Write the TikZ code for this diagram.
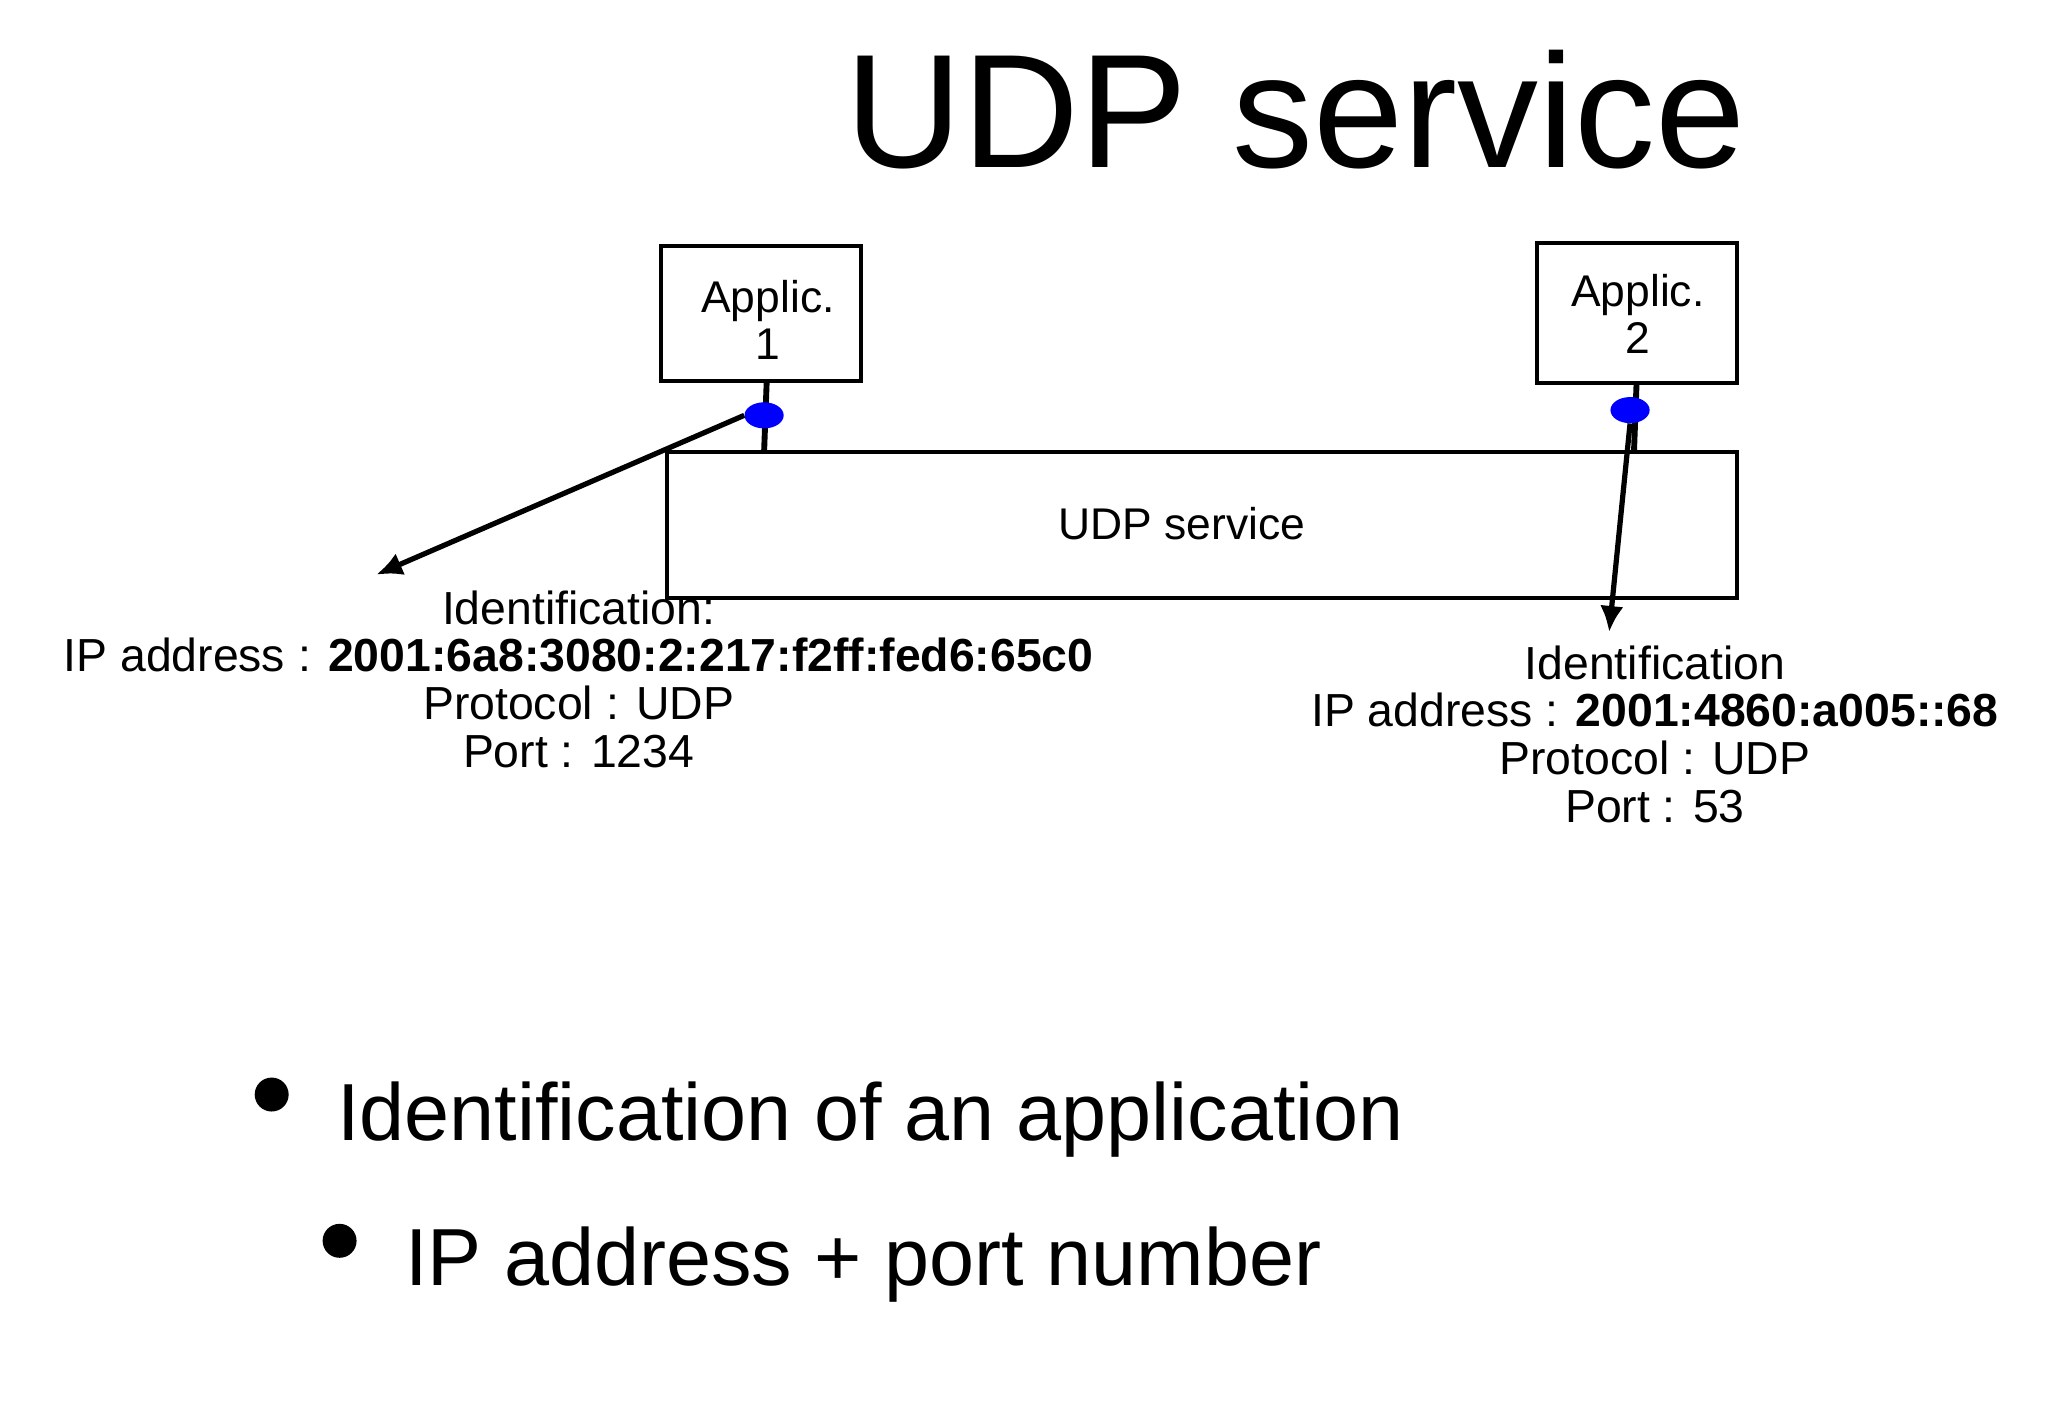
\documentclass[tikz,border=0pt]{standalone}
\usepackage{fontspec}
\setmainfont{Liberation Sans}
\usetikzlibrary{arrows.meta,shapes.geometric}
\begin{document}
\begin{tikzpicture}[x=1pt,y=-1pt,
  box/.style={draw,line width=3pt},
  lbl/.style={font=\fontsize{34}{36}\selectfont,align=center,inner sep=0},
  idl/.style={font=\fontsize{35.5}{36.5}\selectfont,align=center,inner sep=0},
  wire/.style={line width=4.5pt},
  arr/.style={line width=4pt,-{Latex[length=20pt,width=18pt]}},
  port/.style={fill=blue,draw=none,ellipse,minimum width=30pt,minimum height=20pt,inner sep=0}]
\useasboundingbox (0,0) rectangle (1568,1086);
\node[inner sep=0,font=\fontsize{124}{130}\selectfont] (title) at (992,84) {UDP service};
\draw[box] (506,188) rectangle (659,292);
\node[lbl] (a1) at (588,245) {Applic.\\1};
\draw[box] (1177,186) rectangle (1330,293);
\node[lbl] (a2) at (1254,240) {Applic.\\2};
\draw[box] (511,346) rectangle (1330,458);
\node[lbl] (udp) at (905,401) {UDP service};
\coordinate (t1) at (587,292); \coordinate (b1) at (585,346);
\coordinate (t2) at (1253,293); \coordinate (b2) at (1251,346);
\draw[wire] (t1) -- (b1);
\draw[wire] (t2) -- (b2);
\node[port] (p1) at (585,318) {};
\node[port] (p2) at (1248,314) {};
\coordinate (e1) at (288,440); \coordinate (e2) at (1232,484);
\draw[arr] (p1.west) -- (e1);
\draw[arr] (p2.south) -- (e2);
\node[idl] (id1) at (443,520) {Identification:\\IP address : \textbf{2001:6a8:3080:2:217:f2ff:fed6:65c0}\\Protocol : UDP\\Port : 1234};
\node[idl] (id2) at (1267,562) {Identification\\IP address : \textbf{2001:4860:a005::68}\\Protocol : UDP\\Port : 53};
\fill (208,838) circle (13);
\node[anchor=west,inner sep=0,font=\fontsize{62}{70}\selectfont] (b1t) at (258,857) {Identification of an application};
\fill (260,950) circle (13);
\node[anchor=west,inner sep=0,font=\fontsize{62}{70}\selectfont] (b2t) at (310,968) {IP address + port number};
\end{tikzpicture}
\end{document}
